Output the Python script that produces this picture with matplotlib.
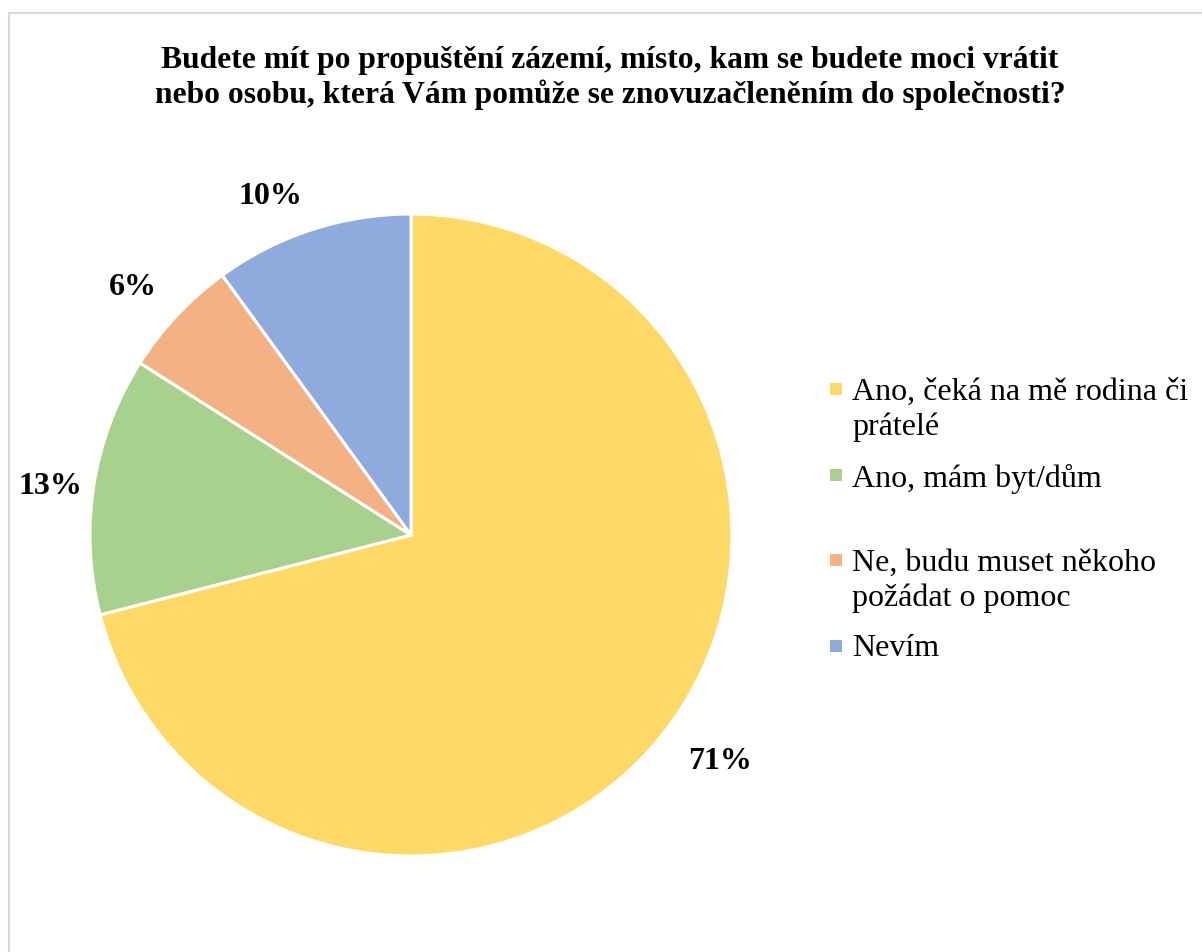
import matplotlib.pyplot as plt
from matplotlib.patches import Rectangle
from matplotlib.transforms import ScaledTranslation

plt.rcParams['font.family'] = ['Liberation Serif', 'DejaVu Serif']

labels = ['Ano, čeká na mě rodina či\nprátelé', 'Ano, mám byt/dům',
          'Ne, budu muset někoho\npožádat o pomoc', 'Nevím']
values = [71, 13, 6, 10]
colors = ['#FFD966', '#A9D18E', '#F4B183', '#8FAADC']

W, H = 1202, 952
fig = plt.figure(figsize=(W / 100, H / 100), dpi=100)

# light grey chart-area frame (only top and left visible in the crop)
fig.patches.append(Rectangle((9 / W, -0.1), 1.2, 1 - 13 / H + 0.1,
                             transform=fig.transFigure, fill=False,
                             edgecolor='#D9D9D9', linewidth=1.5))

cx, cy, r = 411, 535, 321
ax = fig.add_axes([(cx - r) / W, (H - cy - r) / H, 2 * r / W, 2 * r / H])
wedges, texts, autotexts = ax.pie(values, colors=colors, startangle=90, counterclock=False,
                                  autopct='%1.0f%%', pctdistance=1.16,
                                  wedgeprops=dict(edgecolor='white', linewidth=2.2),
                                  textprops=dict(fontsize=23, fontweight='bold'))
ax.set_xlim(-1, 1)
ax.set_ylim(-1, 1)
ax.set_aspect('equal')

# small nudges (pixels) so labels sit like Excel's "outside end" placement
nudges = [(15, 2), (7, -10), (-7, -7), (-25, -16)]
for at, (dx, dy) in zip(autotexts, nudges):
    at.set_transform(ax.transData + ScaledTranslation(dx / 100, dy / 100, fig.dpi_scale_trans))

fig.text(610 / W, 1 - 78 / H,
         'Budete mít po propuštění zázemí, místo, kam se budete moci vrátit\n'
         'nebo osobu, která Vám pomůže se znovuzačleněním do společnosti?',
         ha='center', va='center', fontsize=22.7, fontweight='bold', linespacing=1.17)

# legend: equal slots, text top-aligned, marker beside the first line
y0, slot = 405, 85.5
for i, (lab, col) in enumerate(zip(labels, colors)):
    yb = y0 + i * slot
    fig.patches.append(Rectangle((830 / W, 1 - (yb - 10) / H), 12 / W, 12 / H,
                                 transform=fig.transFigure, facecolor=col, edgecolor='none'))
    fig.text(852 / W, 1 - (yb - 27) / H, lab, ha='left', va='top', fontsize=23,
             linespacing=1.26)

fig.savefig('out.png', dpi=100)
